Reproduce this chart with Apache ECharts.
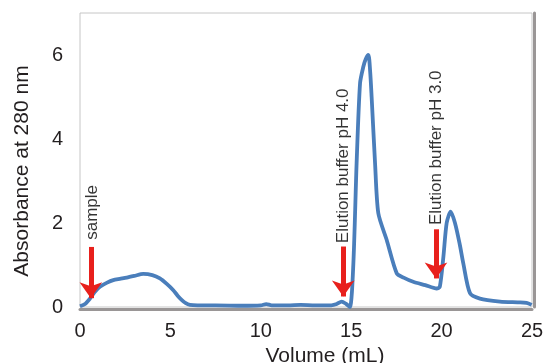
<!DOCTYPE html>
<html><head><meta charset="utf-8">
<script src="https://cdn.jsdelivr.net/npm/echarts@6/dist/echarts.min.js"></script>
<style>html,body{margin:0;padding:0;background:#fff}#c{width:543px;height:363px}</style>
</head><body><div id="c"></div>
<script>
// Volume (mL) and absorbance at 280 nm
var volume = [0, 0.3, 0.55, 0.8, 1.1, 1.5, 1.84, 2.2, 2.58, 3.0, 3.5, 4.0, 4.42, 4.8, 5.16, 5.4, 5.62, 5.85, 6.08, 6.5, 7.5, 9.0, 10.0, 10.3, 10.6, 11.5, 12.2, 13.0, 13.9, 14.2, 14.47, 14.7, 14.93, 15.12, 15.3, 15.49, 15.67, 15.8, 15.95, 16.05, 16.13, 16.32, 16.5, 16.96, 17.52, 17.9, 18.43, 19.1, 19.73, 19.9, 20.1, 20.28, 20.5, 20.74, 21.0, 21.2, 21.57, 22.12, 23.23, 24.2, 24.7, 24.98];
var absorbance = [0.02, 0.08, 0.2, 0.35, 0.48, 0.58, 0.64, 0.67, 0.7, 0.74, 0.79, 0.76, 0.68, 0.55, 0.4, 0.27, 0.17, 0.09, 0.05, 0.04, 0.04, 0.03, 0.04, 0.07, 0.04, 0.04, 0.05, 0.04, 0.04, 0.07, 0.13, 0.08, 0.0, 1.04, 3.43, 5.33, 5.72, 5.9, 6.0, 5.6, 5.0, 3.42, 2.23, 1.6, 0.8, 0.7, 0.6, 0.52, 0.44, 0.48, 1.2, 2.0, 2.27, 2.0, 1.5, 1.04, 0.33, 0.2, 0.13, 0.11, 0.1, 0.05];
var xTicks = [0, 5, 10, 15, 20, 25];
var yTicks = [0, 2, 4, 6];
// annotations
var arrowVol = [0.6, 14.56, 19.69];
var arrowTop = [1.43, 1.44, 1.85];
var arrowTip = [0.21, 0.25, 0.68];
var labelVol = [0.69, 14.55, 19.7];
var labelBase = [1.6, 1.52, 1.95];
var labelText = ['sample', 'Elution buffer pH 4.0', 'Elution buffer pH 3.0'];

var font = 'Liberation Sans, Arial, sans-serif';
var lineData = volume.map(function (v, i) { return [v, absorbance[i]]; });
var arrowLines = arrowVol.map(function (v, i) {
  return [{coord: [v, arrowTop[i]]}, {coord: [v, arrowTip[i]]}];
});
var labelData = labelVol.map(function (v, i) {
  return {value: [v, labelBase[i]], label: {formatter: labelText[i]}};
});
var shadowAxis = {axisTick: {show: false}, splitLine: {show: false}, axisLabel: {show: false}};

var chart = echarts.init(document.getElementById('c'));
chart.setOption({
  animation: false,
  grid: {left: 80, right: 11, top: 13, bottom: 56, show: true, borderColor: '#c6c6c6', borderWidth: 1,
    outerBoundsMode: 'none', containLabel: false},
  xAxis: [{
    type: 'value', min: 0, max: 25, interval: 5,
    name: 'Volume (mL)', nameLocation: 'middle', nameGap: 31,
    nameTextStyle: {fontFamily: font, fontSize: 21, color: '#231f20', padding: [0, 0, 0, 38]},
    axisLine: {show: true, onZero: false, lineStyle: {color: '#9a9696', width: 3}}, offset: 2,
    axisTick: {show: false}, splitLine: {show: false},
    axisLabel: {fontFamily: font, fontSize: 20, color: '#231f20', margin: 12,
      formatter: function (v) { return xTicks.indexOf(v) >= 0 ? String(v) : ''; }}
  }],
  yAxis: [{
    type: 'value', min: 0, max: 7, interval: 1,
    name: 'Absorbance at 280 nm', nameLocation: 'middle', nameGap: 47,
    nameTextStyle: {fontFamily: font, fontSize: 21, color: '#231f20', padding: [0, 22, 0, 0]},
    axisLine: {show: false}, axisTick: {show: false}, splitLine: {show: false},
    axisLabel: {fontFamily: font, fontSize: 20, color: '#231f20', margin: 17,
      formatter: function (v) { return yTicks.indexOf(v) >= 0 ? String(v) : ''; }}
  }, Object.assign({
    type: 'value', min: 0, max: 7, interval: 1, position: 'right', offset: 2,
    axisLine: {show: true, onZero: false, lineStyle: {color: '#9a9696', width: 3}}
  }, shadowAxis)],
  series: [
    {
      type: 'line', data: lineData, smooth: 0.25, showSymbol: false,
      lineStyle: {color: '#4a7ebb', width: 3.8}, z: 3,
      markLine: {
        silent: true, symbol: ['none', 'arrow'], symbolSize: [17, 16],
        lineStyle: {color: '#e8201c', width: 5, type: 'solid'}, label: {show: false},
        data: arrowLines
      }
    },
    {
      type: 'scatter', data: labelData, symbolSize: 0, z: 4,
      label: {show: true, position: [0, 0], rotate: 90, align: 'left', verticalAlign: 'middle',
        fontFamily: font, fontSize: 17, color: '#000'}
    }
  ]
});
</script></body></html>
